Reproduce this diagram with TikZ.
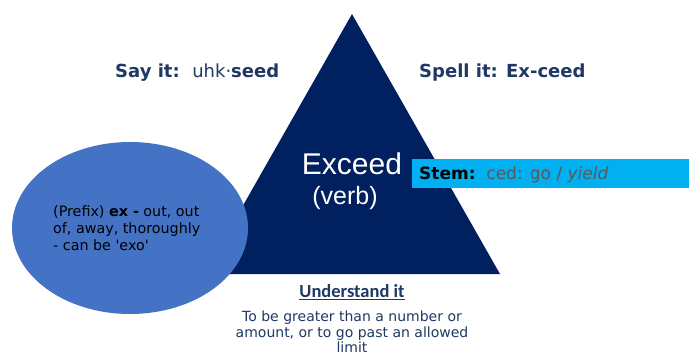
\documentclass[tikz,border=0pt]{standalone}
\usepackage{fontspec}
\setmainfont{DejaVu Sans}
\newfontfamily\arialfont{Liberation Sans}
\newfontfamily\calfont{Carlito}
\usetikzlibrary{positioning,shapes.geometric}
\definecolor{navy}{HTML}{002060}
\definecolor{ovalblue}{HTML}{4472C4}
\definecolor{stemcyan}{HTML}{00B0F0}
\definecolor{labelnavy}{HTML}{1F3864}
\definecolor{stemgray}{HTML}{595959}
\tikzset{
  heading/.style={
    font=\fontsize{18}{22}\selectfont\bfseries,
    text=labelnavy, inner sep=0pt},
  wordtext/.style={
    font=\arialfont, text=white, inner sep=0pt},
  prefixtext/.style={
    font=\fontsize{14.3}{17}\selectfont,
    align=left, inner sep=0pt},
  meaningtext/.style={
    font=\fontsize{14}{15.5}\selectfont,
    text=labelnavy, align=center, inner sep=0pt},
}
\begin{document}
\begin{tikzpicture}[x=1pt,y=-1pt]
  \clip (0,0) rectangle (689,356);
  \fill[white] (0,0) rectangle (689,356);
  % triangle
  \fill[navy] (352,14) -- (500,274) -- (204,274) -- cycle;
  % stem bar
  \fill[stemcyan] (412,159) rectangle (689,188);
  \node[anchor=west, inner sep=0pt, font=\fontsize{17}{18}\selectfont] (stem) at (419,175)
    {\textbf{Stem:}\ \ \textcolor{stemgray}{ced: go / \textit{yield}}};
  % prefix oval
  \fill[ovalblue] (130,228) ellipse [x radius=118, y radius=86];
  \node[prefixtext, anchor=west] (prefix) at (53,228)
    {(Prefix) \textbf{ex -} out, out\\of, away, thoroughly\\- can be \textquotesingle exo\textquotesingle};
  % word in the triangle
  \node[wordtext, font=\arialfont\fontsize{30}{32}\selectfont] (word) at (352,164) {Exceed};
  \node[wordtext, font=\arialfont\fontsize{25}{28}\selectfont] (wordclass) at (345,198) {(verb)};
  % say it / spell it
  \node[heading, anchor=west] (say) at (115,73) {Say it:\ \ \mdseries uhk\textperiodcentered\bfseries seed};
  \node[heading, anchor=west] (spell) at (419,73) {Spell it: Ex-ceed};
  % understand it
  \node[inner sep=0pt, text=labelnavy, font=\calfont\fontsize{18.5}{20}\selectfont\bfseries] (understand) at (352,292)
    {\underline{Understand it}};
  \node[meaningtext, anchor=north] (meaning) at (352,311)
    {To be greater than a number or\\amount, or to go past an allowed\\limit};
\end{tikzpicture}
\end{document}
